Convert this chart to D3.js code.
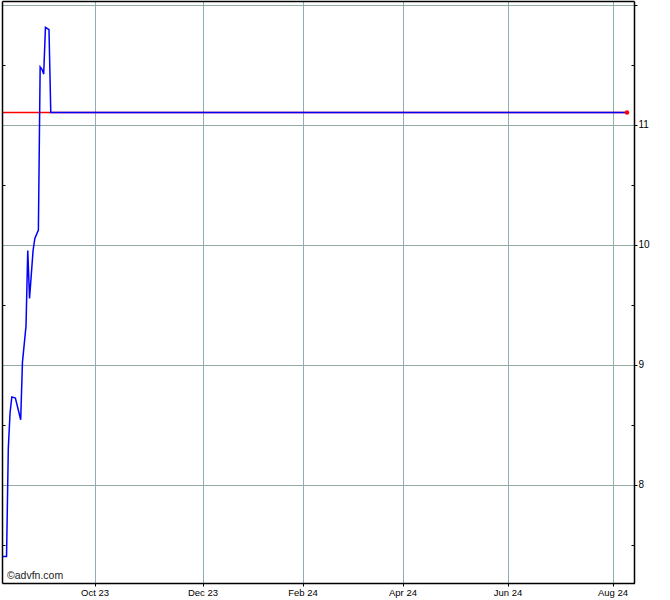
<!DOCTYPE html>
<html>
<head>
<meta charset="utf-8">
<script src="https://cdn.jsdelivr.net/npm/d3@7/dist/d3.min.js"></script>
<style>
  html, body { margin: 0; padding: 0; background: #fff; }
  svg { display: block; }
</style>
</head>
<body>
<svg id="chart" width="670" height="600"></svg>
<script>
// ---- data ----
const dates = ["2023-08-10","2023-08-12","2023-08-13","2023-08-14","2023-08-15","2023-08-17",
  "2023-08-20","2023-08-21","2023-08-22","2023-08-23","2023-08-24","2023-08-25","2023-08-27",
  "2023-08-28","2023-08-30","2023-08-31","2023-09-01","2023-09-02","2023-09-03","2023-09-05",
  "2023-09-06","2024-08-09"];
const prices = [7.40,7.40,8.30,8.60,8.73,8.72,8.54,9.02,9.17,9.32,9.95,9.55,9.95,
  10.05,10.12,11.48,11.46,11.42,11.81,11.79,11.10,11.10];
const lastPrice = 11.10;
const xTickDates = ["2023-10-01","2023-12-01","2024-02-01","2024-04-01","2024-06-01","2024-08-01"];
const xTickLabels = ["Oct 23","Dec 23","Feb 24","Apr 24","Jun 24","Aug 24"];
const yTicks = [8, 9, 10, 11, 12];
const yMinorTicks = [7.5, 8.5, 9.5, 10.5, 11.5];
const yTickLabels = ["8", "9", "10", "11", ""];

// ---- layout ----
const L = 2.5, R = 634.5, T = 1.5, B = 583.5;
const parse = d3.utcParse("%Y-%m-%d");
const svg = d3.select("#chart");

// piecewise time scale (chart uses trading-day spacing)
const x = d3.scaleUtc()
  .domain([parse("2023-08-10"), ...xTickDates.map(parse), parse("2024-08-13")])
  .range([3, 95, 203, 303, 403, 508, 613, 634]);
const y = d3.scaleLinear().domain([8, 12]).range([484.5, 4.5]);

const data = dates.map((d, i) => ({ date: parse(d), value: prices[i] }));

// grid lines
const g = svg.append("g");
xTickDates.forEach(d => {
  const xx = Math.round(x(parse(d))) + 0.5;
  g.append("line").attr("x1", xx).attr("x2", xx).attr("y1", T).attr("y2", B)
    .attr("stroke", "#b9c4c4").attr("stroke-width", 1);
  g.append("line").attr("x1", xx).attr("x2", xx).attr("y1", T).attr("y2", B)
    .attr("stroke", "#5a9aa6").attr("stroke-width", 1).attr("stroke-dasharray", "1,1");
});
yTicks.forEach(v => {
  const yy = Math.round(y(v)) + 0.5;
  g.append("line").attr("x1", L).attr("x2", R).attr("y1", yy).attr("y2", yy)
    .attr("stroke", "#bcbcbc").attr("stroke-width", 1);
  g.append("line").attr("x1", L).attr("x2", R).attr("y1", yy).attr("y2", yy)
    .attr("stroke", "#6a9a8a").attr("stroke-width", 1).attr("stroke-dasharray", "1,1");
});

// red last-price line
svg.append("line")
  .attr("x1", L).attr("x2", x(data[data.length - 1].date))
  .attr("y1", y(lastPrice)).attr("y2", y(lastPrice))
  .attr("stroke", "#ff0000").attr("stroke-width", 1.5);

// price line
svg.append("path").datum(data)
  .attr("fill", "none").attr("stroke", "#0000ff").attr("stroke-width", 1.5)
  .attr("d", d3.line().x(d => x(d.date)).y(d => y(d.value)));

// last point
const last = data[data.length - 1];
svg.append("circle").attr("cx", x(last.date)).attr("cy", y(last.value)).attr("r", 2.2)
  .attr("fill", "#ff0000");

// frame
const frame = svg.append("g").attr("stroke", "#000").attr("stroke-width", 1.5).attr("fill", "none");
frame.append("line").attr("x1", L).attr("x2", R).attr("y1", T).attr("y2", T);
frame.append("line").attr("x1", L).attr("x2", L).attr("y1", T).attr("y2", B);
frame.append("line").attr("x1", L).attr("x2", R + 0.5).attr("y1", B).attr("y2", B);
frame.append("line").attr("x1", R).attr("x2", R).attr("y1", T).attr("y2", B);

// axis ticks
const ax = svg.append("g").attr("stroke", "#000").attr("stroke-width", 1);
yTicks.forEach(v => {
  const yy = Math.round(y(v)) + 0.5;
  ax.append("line").attr("x1", R).attr("x2", R + 3).attr("y1", yy).attr("y2", yy);
});
yMinorTicks.forEach(v => {
  const yy = Math.round(y(v)) + 0.5;
  ax.append("line").attr("x1", R - 3).attr("x2", R).attr("y1", yy).attr("y2", yy);
  ax.append("line").attr("x1", L).attr("x2", L + 3).attr("y1", yy).attr("y2", yy);
});
xTickDates.forEach(d => {
  const xx = Math.round(x(parse(d))) + 0.5;
  ax.append("line").attr("x1", xx).attr("x2", xx).attr("y1", B).attr("y2", B + 3);
});

// labels
const font = "'Liberation Sans', Arial, sans-serif";
yTicks.forEach((v, i) => {
  svg.append("text").attr("x", R + 4).attr("y", y(v) + 3.5)
    .attr("font-family", font).attr("font-size", 10).attr("fill", "#000")
    .text(yTickLabels[i]);
});
xTickDates.forEach((d, i) => {
  svg.append("text").attr("x", x(parse(d))).attr("y", 596)
    .attr("text-anchor", "middle")
    .attr("font-family", font).attr("font-size", 9.5).attr("fill", "#000")
    .text(xTickLabels[i]);
});
svg.append("text").attr("x", 7).attr("y", 579)
  .attr("font-family", font).attr("font-size", 10.5).attr("fill", "#222")
  .text("©advfn.com");
</script>
</body>
</html>
